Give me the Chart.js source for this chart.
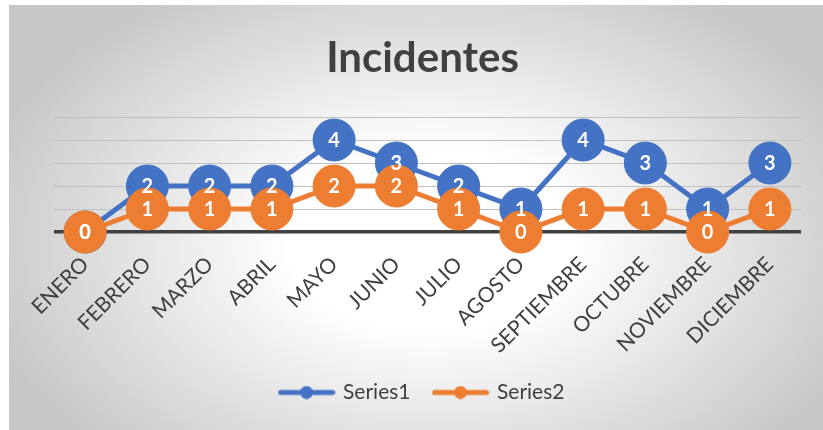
<!DOCTYPE html>
<html>
<head>
<meta charset="utf-8">
<script src="https://cdn.jsdelivr.net/npm/chart.js@4.4.1/dist/chart.umd.min.js"></script>
<style>
  html, body { margin: 0; padding: 0; background: #ffffff; }
  #wrap { position: absolute; left: 0; top: 0; width: 823px; height: 430px; }
</style>
</head>
<body>
<div id="wrap"><canvas id="c"></canvas></div>
<script>
const categories = ['ENERO','FEBRERO','MARZO','ABRIL','MAYO','JUNIO','JULIO','AGOSTO','SEPTIEMBRE','OCTUBRE','NOVIEMBRE','DICIEMBRE'];
const series1 = [0, 2, 2, 2, 4, 3, 2, 1, 4, 3, 1, 3];
const series2 = [0, 1, 1, 1, 2, 2, 1, 0, 1, 1, 0, 1];
const seriesNames = ['Series1', 'Series2'];
const yTicks = [0, 1, 2, 3, 4, 5];

const BLUE = '#4472C4';
const ORANGE = '#ED7D31';
const TEXT = '#404040';

function legendIcon(color) {
  const c = document.createElement('canvas');
  c.width = 58; c.height = 14;
  const g = c.getContext('2d');
  g.strokeStyle = color; g.lineWidth = 5; g.lineCap = 'round';
  g.beginPath(); g.moveTo(3, 7); g.lineTo(55, 7); g.stroke();
  g.fillStyle = color;
  g.beginPath(); g.arc(29, 7, 6.5, 0, Math.PI * 2); g.fill();
  return c;
}

const bgPlugin = {
  id: 'bg',
  beforeDraw(chart) {
    const ctx = chart.ctx;
    const W = chart.width, H = chart.height;
    ctx.save();
    ctx.fillStyle = '#ffffff';
    ctx.fillRect(0, 0, W, H);
    const cx = 430, cy = 240, rx = 470, ry = 300;
    ctx.beginPath();
    ctx.rect(9, 5, W - 9, H - 5);
    ctx.clip();
    ctx.translate(cx, cy);
    ctx.scale(1, ry / rx);
    const grad = ctx.createRadialGradient(0, 0, 0, 0, 0, rx);
    grad.addColorStop(0, '#ffffff');
    grad.addColorStop(0.3, '#ffffff');
    grad.addColorStop(1, '#c6c6c6');
    ctx.fillStyle = grad;
    ctx.fillRect(-cx - 10, -(cy + 10) * rx / ry, W + 20, (H + 20) * rx / ry);
    ctx.restore();
  }
};

const labelPlugin = {
  id: 'valueLabels',
  afterDatasetsDraw(chart) {
    const ctx = chart.ctx;
    ctx.save();
    ctx.font = 'bold 20px Lato';
    ctx.fillStyle = '#ffffff';
    ctx.textAlign = 'center';
    ctx.textBaseline = 'middle';
    [0, 1].forEach(di => {
      const meta = chart.getDatasetMeta(di);
      const data = chart.data.datasets[di].data;
      meta.data.forEach((el, i) => {
        ctx.fillText(String(data[i]), el.x, el.y + 1);
      });
    });
    ctx.restore();
  }
};

new Chart(document.getElementById('c'), {
  type: 'line',
  data: {
    labels: categories,
    datasets: [
      {
        label: seriesNames[0], data: series1,
        borderColor: BLUE, backgroundColor: BLUE,
        borderWidth: 5, pointRadius: 21, pointHoverRadius: 21,
        pointBorderWidth: 1, pointBorderColor: BLUE, pointBackgroundColor: BLUE,
        pointStyle: 'circle', tension: 0, clip: false, order: 2
      },
      {
        label: seriesNames[1], data: series2,
        borderColor: ORANGE, backgroundColor: ORANGE,
        borderWidth: 5, pointRadius: 21, pointHoverRadius: 21,
        pointBorderWidth: 1, pointBorderColor: ORANGE, pointBackgroundColor: ORANGE,
        pointStyle: 'circle', tension: 0, clip: false, order: 1
      }
    ]
  },
  options: {
    responsive: true,
    maintainAspectRatio: false,
    animation: false,
    events: [],
    layout: { padding: { left: 42, right: 20, top: 5, bottom: 17 } },
    scales: {
      x: {
        offset: true,
        grid: { display: false },
        border: { display: false },
        ticks: {
          autoSkip: false, maxRotation: 45, minRotation: 45,
          color: TEXT, font: { family: 'Lato', size: 21 }, padding: 12
        },
        afterFit(scale) { scale.height = 126; }
      },
      y: {
        min: 0, max: 5,
        afterBuildTicks(scale) { scale.ticks = yTicks.map(v => ({ value: v })); },
        ticks: { display: false },
        border: { display: false },
        grid: {
          drawTicks: false,
          color: ctx => ctx.tick && ctx.tick.value === 0 ? '#404040' : '#c0c0c0',
          lineWidth: ctx => ctx.tick && ctx.tick.value === 0 ? 3.5 : 1
        },
        afterFit(scale) { scale.width = 12; }
      }
    },
    plugins: {
      title: {
        display: true, text: 'Incidentes', color: TEXT,
        font: { family: 'Lato', size: 42, weight: 'bold' },
        padding: { top: 28, bottom: 33.6 }
      },
      legend: {
        display: true, position: 'bottom',
        labels: {
          usePointStyle: true, pointStyleWidth: 52,
          color: TEXT, font: { family: 'Lato', size: 21 }, padding: 24,
          sort: (a, b) => a.datasetIndex - b.datasetIndex,
          generateLabels(chart) {
            return chart.data.datasets.map((ds, i) => ({
              text: ds.label, datasetIndex: i,
              pointStyle: legendIcon(ds.borderColor),
              fillStyle: ds.borderColor, strokeStyle: ds.borderColor,
              lineWidth: 0, hidden: false, fontColor: TEXT
            }));
          }
        }
      },
      tooltip: { enabled: false }
    }
  },
  plugins: [bgPlugin, labelPlugin]
});
</script>
</body>
</html>
